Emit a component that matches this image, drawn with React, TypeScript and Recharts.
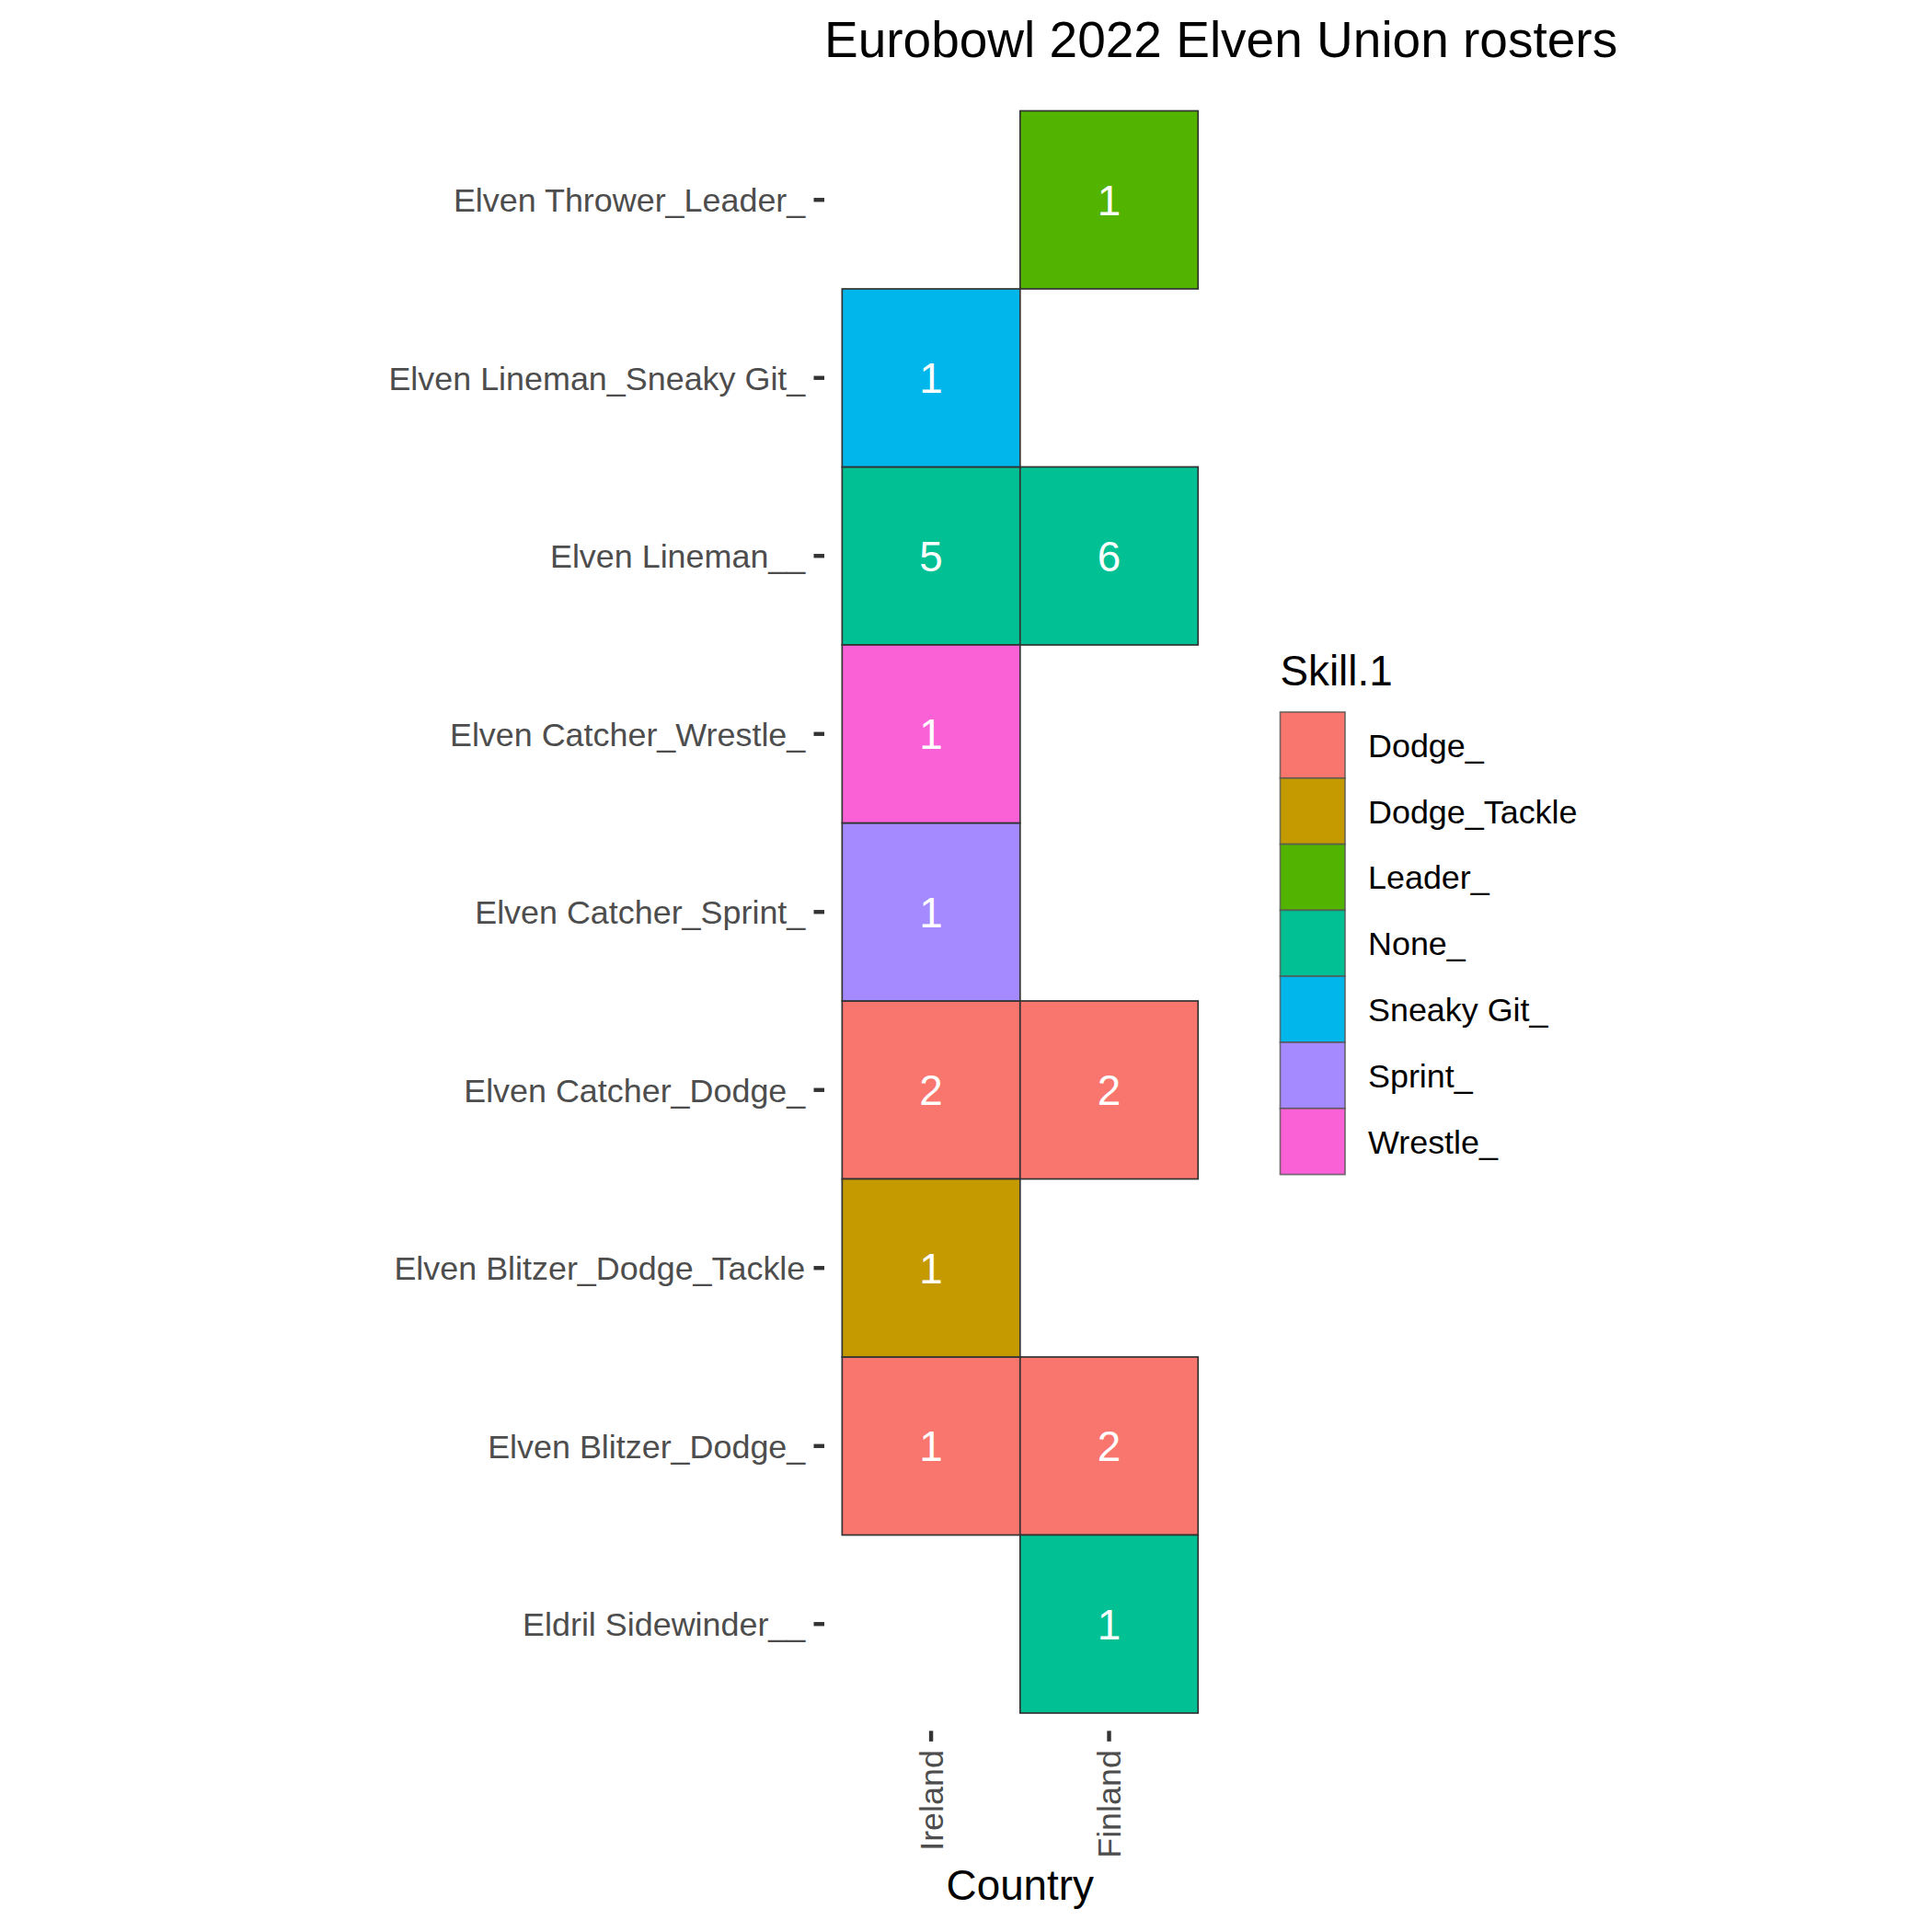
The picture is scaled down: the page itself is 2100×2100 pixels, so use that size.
import React from 'react';
import { ScatterChart, Scatter, XAxis, YAxis } from 'recharts';

// ---- data ----
const COUNTRIES = ['Ireland', 'Finland'];
const ROSTERS = [
  'Eldril Sidewinder__',
  'Elven Blitzer_Dodge_',
  'Elven Blitzer_Dodge_Tackle',
  'Elven Catcher_Dodge_',
  'Elven Catcher_Sprint_',
  'Elven Catcher_Wrestle_',
  'Elven Lineman__',
  'Elven Lineman_Sneaky Git_',
  'Elven Thrower_Leader_',
];
const SKILLS = ['Dodge_', 'Dodge_Tackle', 'Leader_', 'None_', 'Sneaky Git_', 'Sprint_', 'Wrestle_'];
const SKILL_COLORS = ['#F8766D', '#C49A00', '#53B400', '#00C094', '#00B6EB', '#A58AFF', '#FB61D7'];

const IRELAND_ROSTERS = [
  'Elven Lineman_Sneaky Git_',
  'Elven Lineman__',
  'Elven Catcher_Wrestle_',
  'Elven Catcher_Sprint_',
  'Elven Catcher_Dodge_',
  'Elven Blitzer_Dodge_Tackle',
  'Elven Blitzer_Dodge_',
];
const IRELAND_SKILLS = ['Sneaky Git_', 'None_', 'Wrestle_', 'Sprint_', 'Dodge_', 'Dodge_Tackle', 'Dodge_'];
const IRELAND_COUNTS = [1, 5, 1, 1, 2, 1, 1];

const FINLAND_ROSTERS = [
  'Elven Thrower_Leader_',
  'Elven Lineman__',
  'Elven Catcher_Dodge_',
  'Elven Blitzer_Dodge_',
  'Eldril Sidewinder__',
];
const FINLAND_SKILLS = ['Leader_', 'None_', 'Dodge_', 'Dodge_', 'None_'];
const FINLAND_COUNTS = [1, 6, 2, 2, 1];

type Cell = { x: number; y: number; country: string; roster: string; skill: string; count: number };

const buildCells = (country: string, rosters: string[], skills: string[], counts: number[]): Cell[] =>
  rosters.map((r, i) => ({
    x: COUNTRIES.indexOf(country) + 1,
    y: ROSTERS.indexOf(r) + 1,
    country,
    roster: r,
    skill: skills[i],
    count: counts[i],
  }));

const CELLS: Cell[] = [
  ...buildCells('Ireland', IRELAND_ROSTERS, IRELAND_SKILLS, IRELAND_COUNTS),
  ...buildCells('Finland', FINLAND_ROSTERS, FINLAND_SKILLS, FINLAND_COUNTS),
];

// ---- layout ----
const W = 2100;
const H = 2100;
const PLOT_LEFT = 896;
const PLOT_RIGHT = 1321.6;
const PLOT_TOP = 101.15;
const PLOT_BOTTOM = 1881.35;
const X_DOMAIN: [number, number] = [0.4, COUNTRIES.length + 0.6];
const Y_DOMAIN: [number, number] = [0.4, ROSTERS.length + 0.6];
const UNIT_X = (PLOT_RIGHT - PLOT_LEFT) / (X_DOMAIN[1] - X_DOMAIN[0]);
const UNIT_Y = (PLOT_BOTTOM - PLOT_TOP) / (Y_DOMAIN[1] - Y_DOMAIN[0]);

const FONT = '"Liberation Sans", Arial, Helvetica, sans-serif';
const AXIS_TEXT = 35.9;
const TITLE_SIZE = 55;
const AXIS_TITLE = 45.8;

const colorOf = (skill: string) => SKILL_COLORS[SKILLS.indexOf(skill)];

const Tile = (props: any) => {
  const { cx, cy, payload } = props;
  if (cx == null || cy == null) return null;
  return (
    <g>
      <rect
        x={cx - UNIT_X / 2}
        y={cy - UNIT_Y / 2}
        width={UNIT_X}
        height={UNIT_Y}
        fill={colorOf(payload.skill)}
        stroke="#333333"
        strokeWidth={1.7}
      />
      <text
        x={cx}
        y={cy}
        dy="0.358em"
        textAnchor="middle"
        fill="#FFFFFF"
        fontSize={45.8}
        fontFamily={FONT}
      >
        {payload.count}
      </text>
    </g>
  );
};

const YTick = (props: any) => {
  const { x, y, payload } = props;
  return (
    <text x={x} y={y} dy="0.358em" textAnchor="end" fill="#4D4D4D" fontSize={AXIS_TEXT} fontFamily={FONT}>
      {ROSTERS[Math.round(payload.value) - 1]}
    </text>
  );
};

const XTick = (props: any) => {
  const { x, y, payload } = props;
  return (
    <text
      x={x}
      y={y}
      dy="0.358em"
      textAnchor="end"
      transform={`rotate(-90 ${x} ${y})`}
      fill="#4D4D4D"
      fontSize={AXIS_TEXT}
      fontFamily={FONT}
    >
      {COUNTRIES[Math.round(payload.value) - 1]}
    </text>
  );
};

const LEGEND_X = 1391.5;
const LEGEND_KEY_TOP = 774;
const LEGEND_KEY_W = 70.5;
const LEGEND_KEY_H = 71.8;

export default function App() {
  return (
    <div style={{ position: 'absolute', left: 0, top: 0, width: W, height: H, background: '#fff' }}>
      <ScatterChart
        width={W}
        height={H}
        margin={{ top: PLOT_TOP, right: W - PLOT_RIGHT, bottom: 0, left: 0 }}
      >
        <XAxis
          type="number"
          dataKey="x"
          domain={X_DOMAIN}
          allowDataOverflow
          ticks={COUNTRIES.map((_, i) => i + 1)}
          interval={0}
          height={H - PLOT_BOTTOM}
          axisLine={false}
          tickLine={{ stroke: '#333333', strokeWidth: 4.4 }}
          tickSize={11.5}
          tickMargin={9.2}
          tick={<XTick />}
        />
        <YAxis
          type="number"
          dataKey="y"
          domain={Y_DOMAIN}
          allowDataOverflow
          ticks={ROSTERS.map((_, i) => i + 1)}
          interval={0}
          width={PLOT_LEFT}
          axisLine={false}
          tickLine={{ stroke: '#333333', strokeWidth: 4.4 }}
          tickSize={11.5}
          tickMargin={9.2}
          tick={<YTick />}
        />
        {SKILLS.map((s, i) => (
          <Scatter
            key={s}
            name={s}
            data={CELLS.filter((c) => c.skill === s)}
            fill={SKILL_COLORS[i]}
            shape={<Tile />}
            isAnimationActive={false}
          />
        ))}
      </ScatterChart>
      <svg
        width={W}
        height={H}
        style={{ position: 'absolute', left: 0, top: 0, pointerEvents: 'none' }}
      >
        <text x={PLOT_LEFT} y={62.3} fontSize={TITLE_SIZE} fontFamily={FONT} fill="#000">
          Eurobowl 2022 Elven Union rosters
        </text>
        <text
          x={(PLOT_LEFT + PLOT_RIGHT) / 2}
          y={2065}
          textAnchor="middle"
          fontSize={AXIS_TITLE}
          fontFamily={FONT}
          fill="#000"
        >
          Country
        </text>
        <text x={LEGEND_X} y={745} fontSize={AXIS_TITLE} fontFamily={FONT} fill="#000">
          Skill.1
        </text>
        {SKILLS.map((s, i) => (
          <g key={s}>
            <rect
              x={LEGEND_X}
              y={LEGEND_KEY_TOP + i * LEGEND_KEY_H}
              width={LEGEND_KEY_W}
              height={LEGEND_KEY_H}
              fill={SKILL_COLORS[i]}
              stroke="#555555"
              strokeOpacity={0.8}
              strokeWidth={1.7}
            />
            <text
              x={1487}
              y={LEGEND_KEY_TOP + (i + 0.5) * LEGEND_KEY_H}
              dy="0.358em"
              fontSize={AXIS_TEXT}
              fontFamily={FONT}
              fill="#000"
            >
              {s}
            </text>
          </g>
        ))}
      </svg>
    </div>
  );
}
